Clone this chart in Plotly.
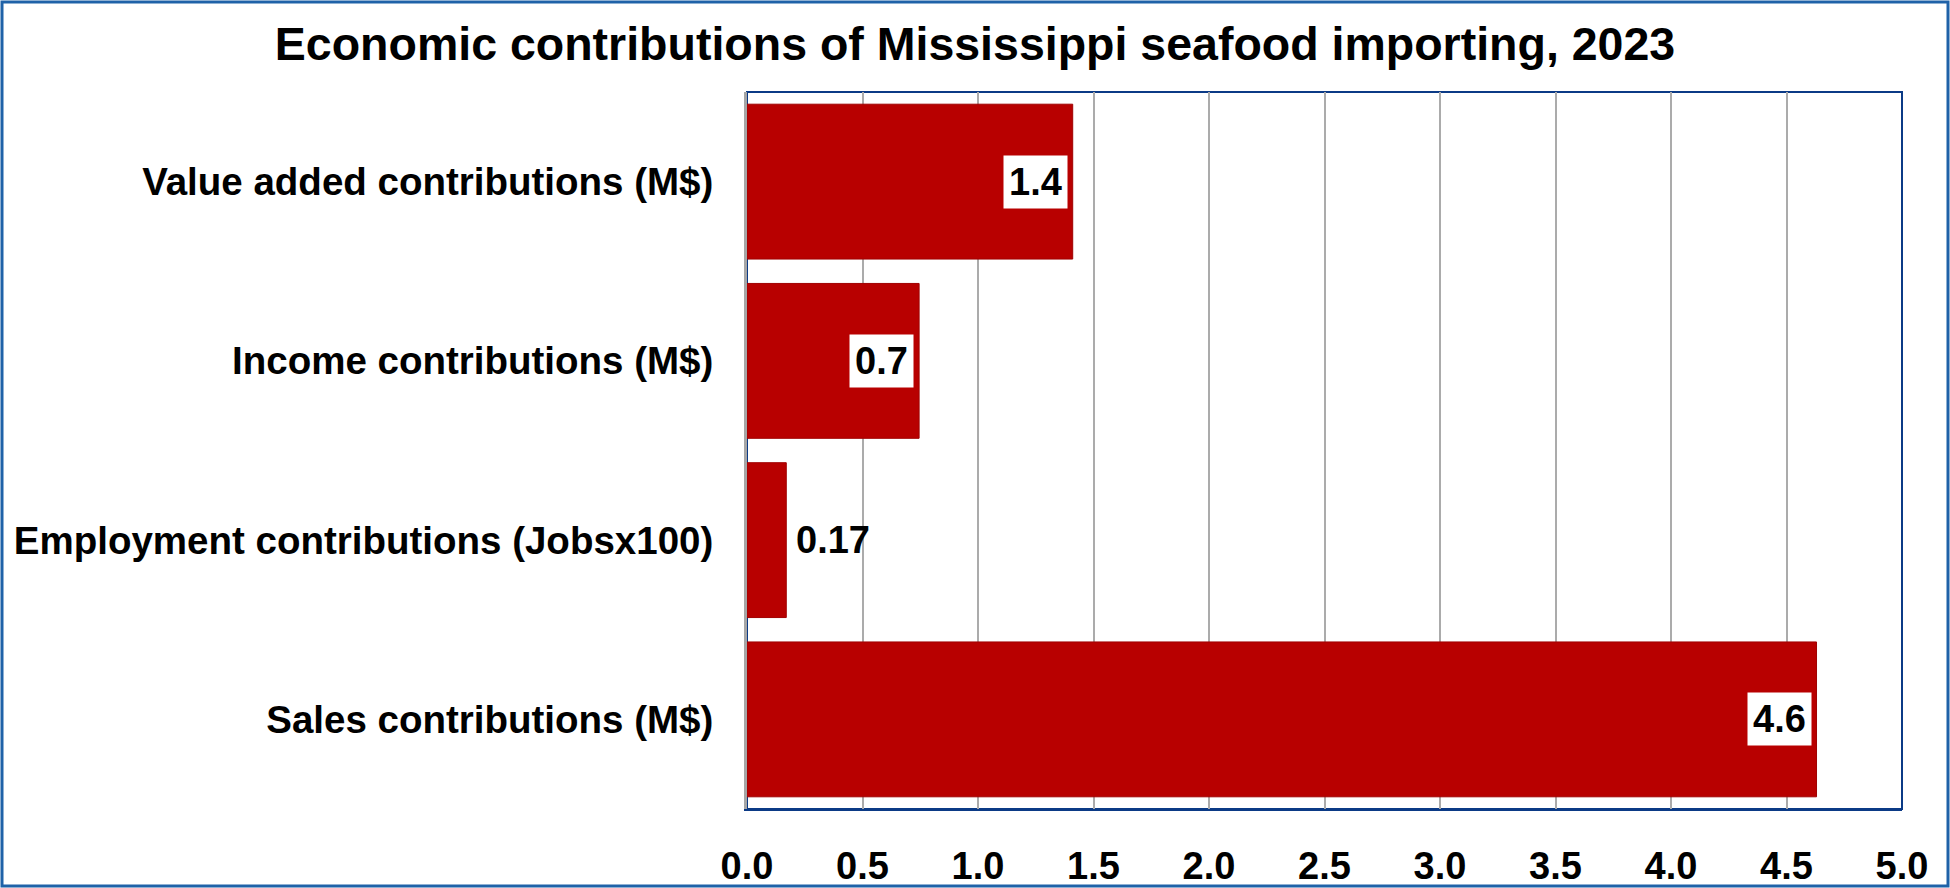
import plotly.graph_objects as go

# chart data (top to bottom as drawn)
categories = [
    "Value added contributions (M$)",
    "Income contributions (M$)",
    "Employment contributions (Jobsx100)",
    "Sales contributions (M$)",
]
values = [1.41, 0.745, 0.17, 4.63]
labels = ["1.4", "0.7", "0.17", "4.6"]
label_inside = [True, True, False, True]
x_ticks = [0.0, 0.5, 1.0, 1.5, 2.0, 2.5, 3.0, 3.5, 4.0, 4.5, 5.0]

W, H = 1950, 888
ML, MR, MT, MB = 747, 48, 92, 79
FONT = "Liberation Sans, Arial, sans-serif"
BAR_RED = "#b80000"
NAVY = "#0b3a86"

fig = go.Figure()
fig.add_trace(go.Bar(
    x=values,
    y=categories,
    orientation="h",
    marker=dict(color=BAR_RED, line=dict(color="#a00000", width=1)),
    hoverinfo="x+y",
    showlegend=False,
))

# value labels in white boxes
for cat, val, lab, inside in zip(categories, values, labels, label_inside):
    fig.add_annotation(
        x=val, y=cat, xref="x", yref="y",
        text="<b>%s</b>" % lab,
        showarrow=False,
        xanchor="right" if inside else "left",
        xshift=-5 if inside else 4,
        bgcolor="white" if inside else "rgba(0,0,0,0)",
        borderpad=5,
        font=dict(family=FONT, size=38, color="black"),
    )

pw = W - ML - MR
ph = H - MT - MB
fig.add_shape(  # outer frame
    type="rect", xref="paper", yref="paper",
    x0=-(ML - 2) / pw, x1=1 + (MR - 2) / pw,
    y0=-(MB - 2) / ph, y1=1 + (MT - 2) / ph,
    line=dict(color="#1f62a8", width=3), layer="below",
)
fig.add_shape(  # plot area border
    type="rect", xref="paper", yref="paper",
    x0=0, x1=1, y0=0, y1=1,
    line=dict(color=NAVY, width=2), layer="below",
)

fig.update_layout(
    width=W, height=H,
    margin=dict(l=ML, r=MR, t=MT, b=MB, autoexpand=False),
    paper_bgcolor="white",
    plot_bgcolor="white",
    bargap=0.136,
    title=dict(
        text="<b>Economic contributions of Mississippi seafood importing, 2023</b>",
        x=0.5, xanchor="center", xref="container",
        y=1 - 44 / H, yanchor="middle", yref="container",
        font=dict(family=FONT, size=46.5, color="black"),
    ),
    font=dict(family=FONT, color="black"),
    xaxis=dict(
        range=[0, 5],
        tickvals=x_ticks,
        tickformat=".1f",
        automargin=False,
        showgrid=True,
        gridcolor="#ababab",
        gridwidth=2,
        zeroline=False,
        showline=True,
        linecolor=NAVY,
        linewidth=2,
        ticks="",
        ticklabelstandoff=22,
        tickfont=dict(family=FONT, size=38, color="black", weight="bold"),
    ),
    yaxis=dict(
        autorange="reversed",
        automargin=False,
        showgrid=False,
        zeroline=False,
        showline=True,
        linecolor="#a6a6a6",
        linewidth=3,
        ticks="",
        ticklabelstandoff=23,
        tickfont=dict(family=FONT, size=38.5, color="black", weight="bold"),
    ),
)

# drop the page's default body margin so the figure sits at the window corner
fig.write_html(
    "out.html",
    config={"displayModeBar": False},
    post_script="document.body.style.margin='0';document.body.style.overflow='hidden';",
)
